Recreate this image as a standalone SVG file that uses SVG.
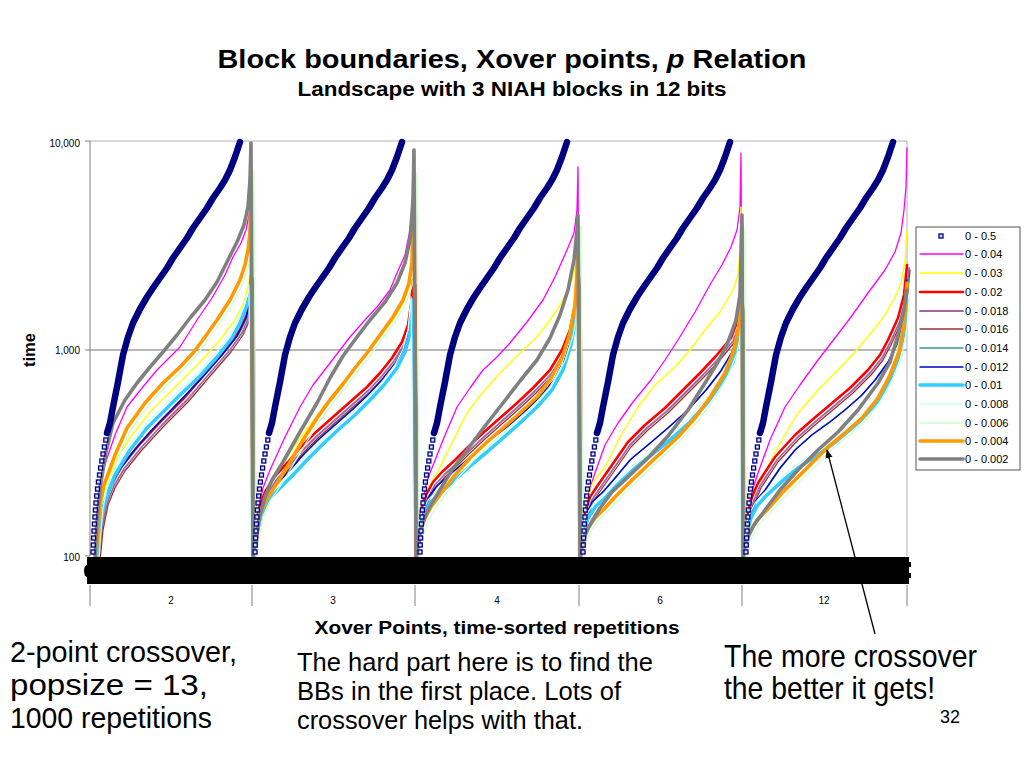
<svg xmlns="http://www.w3.org/2000/svg" xmlns:xlink="http://www.w3.org/1999/xlink" width="1024" height="768" viewBox="0 0 1024 768">
<style>
text{font-family:"Liberation Sans",Arial,sans-serif;fill:#000}
.s{fill:none;stroke-linejoin:round;stroke-linecap:round}
.mag{stroke:#ff00ff;stroke-width:1.3}
.yel{stroke:#ffff00;stroke-width:1.4}
.red{stroke:#ff0000;stroke-width:2.6}
.pur{stroke:#a366a3;stroke-width:1.8}
.brn{stroke:#993333;stroke-width:1.3}
.tea{stroke:#339999;stroke-width:1.3}
.blu{stroke:#0000cc;stroke-width:1.4}
.cya{stroke:#33ccff;stroke-width:3.6}
.pcy{stroke:#ccffff;stroke-width:1.3}
.pgr{stroke:#ccffcc;stroke-width:1.3}
.ora{stroke:#ff9900;stroke-width:3.6}
.gra{stroke:#808080;stroke-width:3.6}
.nav{stroke:#000080;stroke-width:6.5}
.sq{fill:#d8d8ff;stroke:#000080;stroke-width:1.3}
.ax{stroke:#808080;stroke-width:1;fill:none}
.tk{font-size:10px}
.lg{font-size:11px}
</style>
<defs>
<marker id="ah" viewBox="0 0 10 10" refX="9" refY="5" markerWidth="9" markerHeight="9" orient="auto" markerUnits="userSpaceOnUse">
<path d="M0,1 L10,5 L0,9 Z" fill="#000"/>
</marker>
<g id="navyCurve">
<path class="s nav" d="M107,433 L110,423 113,407 118,382 123,355 128,337 133,323 140,309 147,297 153,288 160,278 167,268 173,258 180,248 187,238 193,228 200,218 207,208 213,198 220,188 225,180 230,170 235,157 240,142"/>
<rect class="sq" x="91" y="550" width="4" height="4"/>
<rect class="sq" x="91.3" y="543" width="4" height="4"/>
<rect class="sq" x="91.6" y="536" width="4" height="4"/>
<rect class="sq" x="92" y="529" width="4" height="4"/>
<rect class="sq" x="92.4" y="522" width="4" height="4"/>
<rect class="sq" x="92.9" y="515" width="4" height="4"/>
<rect class="sq" x="93.4" y="508" width="4" height="4"/>
<rect class="sq" x="94" y="501" width="4" height="4"/>
<rect class="sq" x="94.7" y="494" width="4" height="4"/>
<rect class="sq" x="95.5" y="487" width="4" height="4"/>
<rect class="sq" x="96.4" y="480" width="4" height="4"/>
<rect class="sq" x="97.5" y="473" width="4" height="4"/>
<rect class="sq" x="98.6" y="466" width="4" height="4"/>
<rect class="sq" x="99.8" y="459" width="4" height="4"/>
<rect class="sq" x="101" y="452" width="4" height="4"/>
<rect class="sq" x="102.4" y="445" width="4" height="4"/>
<rect class="sq" x="103.8" y="438" width="4" height="4"/>
</g>
<path id="p-red" d="M97,556 L100,525 105,500 112,483 122,466 138,446 160,422 185,397 208,370 228,347 240,330 247,314 250,292 251,275 L253,556 L255,530 259,508 265,492 275,476 288,462 300,448 315,433 333,417 350,402 367,387 380,373 392,358 402,342 408,325 411,305 413,280 L416,556 L418,530 421,510 426,495 433,482 442,472 455,460 467,448 483,433 500,418 517,403 533,388 550,370 562,350 570,330 575,305 577,285 578,270 L580,556 L582,530 585,512 590,497 598,485 612,465 628,442 645,425 665,408 683,390 701,372 716,356 731,338 737,322 740,300 741,255 L743,556 L745,530 748,512 752,497 758,483 775,457 795,435 812,420 831,404 850,388 868,370 880,355 888,340 898,318 904,295 907,265"/>
<path id="p-blu" d="M97,556 L99,528 103,505 110,488 118,472 133,452 150,432 175,406 200,380 222,355 237,336 246,318 250,300 251,290 L253,556 L255,532 260,512 268,495 278,483 290,470 303,455 318,440 335,425 352,410 368,395 382,380 395,364 404,347 410,330 413,300 L416,556 L418,532 422,513 428,498 436,487 447,477 460,466 475,453 490,440 507,427 523,413 540,397 554,380 564,360 571,338 576,312 578,285 L580,556 L582,532 586,515 592,502 602,493 615,478 630,460 648,445 668,428 688,410 706,390 720,372 732,352 738,335 741,315 742,300 L743,556 L745,532 749,515 755,502 765,490 780,468 795,450 812,435 830,422 845,410 861,396 875,380 888,362 897,343 903,320 907,280"/>
<path id="p-cya" d="M97,556 L99,532 103,510 108,492 115,475 130,450 147,428 165,410 180,395 200,376 217,357 232,338 240,323 246,308 250,295 251,288 L253,556 L256,535 261,515 268,500 280,488 293,475 307,460 322,445 338,430 355,415 370,400 384,385 397,368 405,352 410,333 413,300 L416,556 L418,535 423,517 430,503 440,493 455,480 470,466 487,452 503,438 520,423 537,407 552,390 563,370 571,345 576,318 578,285 L580,556 L583,535 588,518 596,506 605,498 618,484 633,470 650,456 670,440 690,422 708,402 722,382 733,362 739,340 741,320 742,300 L743,556 L746,535 751,518 757,506 765,497 780,483 798,468 818,455 838,440 858,423 875,405 888,385 897,362 903,338 906,315 907,300"/>
<path id="p-ora" d="M96,556 L98,528 100,505 104,485 115,455 127,428 145,403 163,383 180,367 193,353 205,337 217,320 230,300 240,280 245,265 248,250 250,232 251,168 L253,556 L256,535 260,515 267,498 278,482 290,462 303,440 317,418 330,400 343,384 355,368 367,353 380,335 393,317 403,300 409,283 412,262 414,170 L416,556 L419,537 424,520 431,507 442,492 455,475 470,458 487,442 503,428 520,413 537,397 550,380 562,358 570,333 575,305 577,273 578,223 L580,556 L583,540 588,528 595,518 605,508 615,497 628,484 650,463 678,437 695,418 711,396 725,373 734,350 739,325 741,300 742,225 L743,556 L746,540 751,530 757,520 767,510 782,493 800,475 815,460 828,447 845,433 862,418 878,398 890,375 899,352 904,325 907,283"/>
</defs>

<rect width="1024" height="768" fill="#fff"/>

<g id="title">
<text x="512" y="68" font-size="26" font-weight="bold" text-anchor="middle" textLength="589" lengthAdjust="spacingAndGlyphs">Block boundaries, Xover points, <tspan font-style="italic">p</tspan>  Relation</text>
<text x="512" y="96" font-size="19.5" font-weight="bold" text-anchor="middle" textLength="429" lengthAdjust="spacingAndGlyphs">Landscape with 3 NIAH blocks in 12 bits</text>
</g>

<g id="plot-frame">
<line class="ax" x1="90" y1="141" x2="907" y2="141" style="stroke:#b0b0b0"/>
<line class="ax" x1="907" y1="141" x2="907" y2="556" style="stroke:#b0b0b0"/>
<line class="ax" x1="90" y1="350" x2="907" y2="350" style="stroke:#707070"/>
<line class="ax" x1="90" y1="141" x2="90" y2="556"/>
<line class="ax" x1="85" y1="141" x2="90" y2="141"/>
<line class="ax" x1="85" y1="350" x2="90" y2="350"/>
<line class="ax" x1="85" y1="556" x2="90" y2="556"/>
</g>

<g id="y-axis-labels">
<text class="tk" x="80" y="147" text-anchor="end">10,000</text>
<text class="tk" x="80" y="354" text-anchor="end">1,000</text>
<text class="tk" x="80" y="561" text-anchor="end">100</text>
<text x="35" y="350" font-size="16.5" font-weight="bold" text-anchor="middle" transform="rotate(-90 35 350)">time</text>
</g>

<g id="series">
<g id="s-0-0.04"><path class="s mag" d="M96,556 L98,520 100,490 104,467 115,435 127,407 142,388 157,370 180,347 197,320 212,298 225,275 233,257 241,243 246,230 249,215 251,197 L253,556 L256,530 259,505 263,488 270,470 285,437 300,407 313,385 327,367 340,350 350,337 365,320 377,307 390,290 397,273 405,255 410,230 413,200 L416,556 L419,530 422,505 426,485 430,473 443,440 457,407 470,388 483,370 497,357 510,343 527,322 543,300 555,277 567,250 574,233 577,210 578,167 L580,556 L583,528 586,505 590,488 595,473 605,445 618,423 633,402 651,380 665,360 678,340 695,312 711,283 722,265 731,247 737,230 740,207 741,153 L743,556 L746,528 750,500 754,485 758,473 770,440 785,407 800,385 818,360 835,338 851,317 868,293 885,270 895,252 901,233 904,210 906,187 907,148"/></g>
<g id="s-0-0.03"><path class="s yel" d="M97,556 L99,525 102,500 107,482 117,458 132,435 150,412 175,387 200,362 220,340 235,320 244,302 249,282 251,250 L253,556 L256,530 260,505 266,490 280,468 295,445 310,425 325,405 340,388 352,372 365,355 380,337 393,320 403,303 410,285 413,250 L416,556 L419,528 423,505 428,488 437,473 452,443 467,413 483,392 500,373 518,355 537,337 550,320 560,305 568,290 574,275 577,257 578,240 L580,556 L583,525 587,500 593,482 605,467 620,437 638,407 655,385 675,367 690,350 705,330 720,312 733,290 738,275 740,250 741,207 L743,556 L746,528 750,505 756,488 765,473 780,443 798,413 818,390 838,370 855,352 871,333 885,315 895,297 901,283 905,262 907,230"/></g>
<g id="s-0-0.02"><use xlink:href="#p-red" href="#p-red" class="s red"/></g>
<g id="s-0-0.018"><use xlink:href="#p-red" href="#p-red" class="s pur" transform="translate(2,3)"/></g>
<g id="s-0-0.016"><use xlink:href="#p-red" href="#p-red" class="s brn" transform="translate(3,5)"/></g>
<g id="s-0-0.014"><use xlink:href="#p-blu" href="#p-blu" class="s tea" transform="translate(2,-2)"/></g>
<g id="s-0-0.012"><use xlink:href="#p-blu" href="#p-blu" class="s blu"/></g>
<g id="s-0-0.01"><use xlink:href="#p-cya" href="#p-cya" class="s cya"/></g>
<g id="s-0-0.008"><use xlink:href="#p-cya" href="#p-cya" class="s pcy" transform="translate(-2,-3)"/></g>
<g id="s-0-0.006"><use xlink:href="#p-ora" href="#p-ora" class="s pgr" transform="translate(3,3)"/></g>
<g id="s-0-0.004"><use xlink:href="#p-ora" href="#p-ora" class="s ora"/></g>
<g id="s-0-0.002"><path class="s gra" d="M95,556 L97,520 100,488 106,452 113,423 125,400 137,383 150,367 163,352 177,335 190,318 205,300 217,282 227,262 237,242 244,225 248,207 250,180 251,143 L253,556 L256,535 260,515 265,497 272,480 283,462 300,432 317,403 330,378 343,356 357,337 370,320 385,302 397,283 405,263 410,240 413,200 414,150 L416,556 L418,540 422,525 428,510 438,493 452,470 467,450 485,426 503,403 520,381 537,360 550,338 560,315 568,290 574,260 577,230 578,215 L580,556 L582,545 586,533 591,523 600,508 612,492 628,477 648,458 668,436 688,410 705,383 718,362 728,342 736,320 740,295 742,215 L743,556 L745,545 749,535 754,525 765,510 780,490 798,470 818,450 838,432 858,410 878,383 890,362 898,335 904,310 907,290"/></g>
<g id="s-0-0.5">
<use xlink:href="#navyCurve" href="#navyCurve"/>
<use xlink:href="#navyCurve" href="#navyCurve" transform="translate(162,0)"/>
<use xlink:href="#navyCurve" href="#navyCurve" transform="translate(327,0)"/>
<use xlink:href="#navyCurve" href="#navyCurve" transform="translate(490,0)"/>
<use xlink:href="#navyCurve" href="#navyCurve" transform="translate(653,0)"/>
</g>
</g>

<g id="x-axis">
<rect x="87" y="557" width="822" height="27" fill="#000"/>
<ellipse cx="87" cy="571" rx="3" ry="6" fill="#000"/>
<rect x="905" y="562" width="6" height="5" fill="#000"/>
<rect x="905" y="573" width="6" height="5" fill="#000"/>
<line class="ax" x1="90" y1="585" x2="90" y2="606"/>
<line class="ax" x1="252" y1="585" x2="252" y2="606"/>
<line class="ax" x1="415" y1="585" x2="415" y2="606"/>
<line class="ax" x1="579" y1="585" x2="579" y2="606"/>
<line class="ax" x1="742" y1="585" x2="742" y2="606"/>
<line class="ax" x1="907" y1="585" x2="907" y2="606"/>
<text class="tk" x="171" y="604" text-anchor="middle">2</text>
<text class="tk" x="333" y="604" text-anchor="middle">3</text>
<text class="tk" x="497" y="604" text-anchor="middle">4</text>
<text class="tk" x="660" y="604" text-anchor="middle">6</text>
<text class="tk" x="824" y="604" text-anchor="middle">12</text>
<text x="497" y="634" font-size="18" font-weight="bold" text-anchor="middle" textLength="365" lengthAdjust="spacingAndGlyphs">Xover Points, time-sorted repetitions</text>
</g>

<g id="legend">
<rect x="916" y="227" width="104" height="243" fill="#fff" stroke="#555" stroke-width="1"/>
<rect class="sq" x="939" y="234" width="4" height="4"/>
<text class="lg" x="965" y="240">0 - 0.5</text>
<line class="s mag" x1="920" y1="254" x2="963" y2="254"/><text class="lg" x="965" y="258">0 - 0.04</text>
<line class="s yel" x1="920" y1="273" x2="963" y2="273"/><text class="lg" x="965" y="277">0 - 0.03</text>
<line class="s red" x1="920" y1="292" x2="963" y2="292"/><text class="lg" x="965" y="296">0 - 0.02</text>
<line class="s pur" x1="920" y1="311" x2="963" y2="311"/><text class="lg" x="965" y="315">0 - 0.018</text>
<line class="s brn" x1="920" y1="329" x2="963" y2="329"/><text class="lg" x="965" y="333">0 - 0.016</text>
<line class="s tea" x1="920" y1="348" x2="963" y2="348"/><text class="lg" x="965" y="352">0 - 0.014</text>
<line class="s blu" x1="920" y1="367" x2="963" y2="367"/><text class="lg" x="965" y="371">0 - 0.012</text>
<line class="s cya" x1="920" y1="385" x2="963" y2="385"/><text class="lg" x="965" y="389">0 - 0.01</text>
<line class="s pcy" x1="920" y1="404" x2="963" y2="404"/><text class="lg" x="965" y="408">0 - 0.008</text>
<line class="s pgr" x1="920" y1="423" x2="963" y2="423"/><text class="lg" x="965" y="427">0 - 0.006</text>
<line class="s ora" x1="920" y1="441" x2="963" y2="441"/><text class="lg" x="965" y="445">0 - 0.004</text>
<line class="s gra" x1="920" y1="459" x2="963" y2="459"/><text class="lg" x="965" y="463">0 - 0.002</text>
</g>

<g id="connectors">
<line x1="875" y1="634" x2="827" y2="450" stroke="#000" stroke-width="1.3" marker-end="url(#ah)"/>
</g>

<g id="note-left">
<text x="10" y="662" font-size="30" textLength="227" lengthAdjust="spacingAndGlyphs">2-point crossover,</text>
<text x="10" y="695" font-size="30" textLength="198" lengthAdjust="spacingAndGlyphs">popsize = 13,</text>
<text x="10" y="728" font-size="30" textLength="202" lengthAdjust="spacingAndGlyphs">1000 repetitions</text>
</g>
<g id="note-middle">
<text x="297" y="671" font-size="26" textLength="356" lengthAdjust="spacingAndGlyphs">The hard part here is to find the</text>
<text x="297" y="700" font-size="26" textLength="324" lengthAdjust="spacingAndGlyphs">BBs in the first place. Lots of</text>
<text x="297" y="729" font-size="26" textLength="286" lengthAdjust="spacingAndGlyphs">crossover helps with that.</text>
</g>
<g id="note-right">
<text x="724" y="667" font-size="30.5" textLength="253" lengthAdjust="spacingAndGlyphs">The more crossover</text>
<text x="724" y="699" font-size="30.5" textLength="211" lengthAdjust="spacingAndGlyphs">the better it gets!</text>
</g>
<text id="page-number" x="940" y="723" font-size="18">32</text>
</svg>
